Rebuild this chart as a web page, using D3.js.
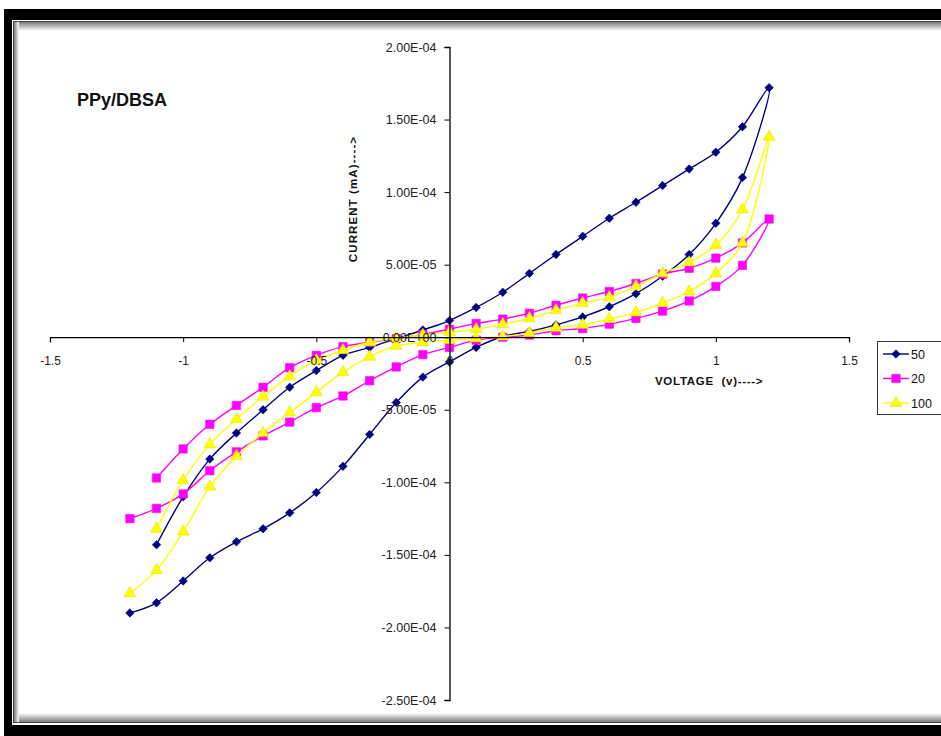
<!DOCTYPE html>
<html>
<head>
<meta charset="utf-8">
<script src="https://cdn.jsdelivr.net/npm/d3@7"></script>
<style>
  html, body { margin: 0; padding: 0; background: #fff; }
  svg { display: block; font-family: "Liberation Sans", Arial, sans-serif; }
</style>
</head>
<body>
<svg id="chart" width="941" height="736"></svg>
<script>
// Cyclic voltammetry sweep: forward branch -1.1 V -> 1.2 V, then reverse 1.1 V -> -1.2 V
const voltage = [
  -1.1, -1.0, -0.9, -0.8, -0.7, -0.6, -0.5, -0.4, -0.3, -0.2, -0.1, 0.0,
   0.1,  0.2,  0.3,  0.4,  0.5,  0.6,  0.7,  0.8,  0.9,  1.0,  1.1, 1.2,
   1.1,  1.0,  0.9,  0.8,  0.7,  0.6,  0.5,  0.4,  0.3,  0.2,  0.1, 0.0,
  -0.1, -0.2, -0.3, -0.4, -0.5, -0.6, -0.7, -0.8, -0.9, -1.0, -1.1, -1.2
];

// Currents in units of 1e-6 (scaled when plotted)
const current50 = [
  -143, -110, -84, -66, -50, -34.5, -23, -12.5, -7, -1, 5, 11.5,
  20.5, 31, 44, 57, 69.5, 82, 93, 104.5, 116, 127.5, 145, 172,
  110, 78.5, 57, 42, 30, 21, 14, 8.5, 4, 0.5, -7, -17,
  -27.5, -45, -67, -89, -107, -121, -132, -141, -152, -168, -183, -190
];
const current20 = [
  -97, -77, -60, -47, -34.5, -21, -12.5, -6.5, -3.5, -1, 2, 5.5,
  9.5, 12.5, 16.5, 22, 27, 31.5, 37, 43.5, 47.5, 54.5, 65, 81.5,
  49.5, 35, 25, 18, 13, 9, 6, 4.5, 1.5, 0, -2, -7,
  -12, -20.5, -30, -40.5, -48.5, -58.5, -68, -79, -92, -108, -118, -125
];
const current100 = [
  -132, -98.5, -74, -56.5, -41, -27, -16, -9, -3.5, -0.7, 1.5, 3.5,
  5.5, 9, 13, 18.5, 23.5, 27.5, 35, 44, 51.5, 63.5, 88, 138,
  65, 44, 31.5, 23.5, 17, 12.5, 8.5, 6.5, 2.8, 0.5, -0.7, -2,
  -3.5, -6, -13.5, -24, -38, -52, -66, -82, -103, -134, -160.5, -176.5
];

const seriesNames = ["50", "20", "100"];
const seriesColors = ["#000080", "#ff00ff", "#ffff00"];
const seriesMarkers = ["diamond", "square", "triangle"];
const seriesValues = [current50, current20, current100];

const xTicks = [-1.5, -1, -0.5, 0, 0.5, 1, 1.5];
const yTicks = [2e-4, 1.5e-4, 1e-4, 5e-5, 0, -5e-5, -1e-4, -1.5e-4, -2e-4, -2.5e-4];

const svg = d3.select("#chart");

// ---- framed panel ----
svg.append("rect").attr("x", 4).attr("y", 9).attr("width", 950).attr("height", 740).attr("fill", "#000");
svg.append("rect").attr("x", 12).attr("y", 20).attr("width", 940).attr("height", 705).attr("fill", "#fff");
svg.append("rect").attr("x", 13.5).attr("y", 21.5).attr("width", 940).attr("height", 701)
  .attr("fill", "none").attr("stroke", "#444").attr("stroke-width", 1);

const defs = svg.append("defs");
function grad(id, x1, y1, x2, y2) {
  const g = defs.append("linearGradient").attr("id", id)
    .attr("x1", x1).attr("y1", y1).attr("x2", x2).attr("y2", y2);
  g.append("stop").attr("offset", "0%").attr("stop-color", "#7a7a7a");
  g.append("stop").attr("offset", "100%").attr("stop-color", "#fff");
}
grad("shTop", 0, 0, 0, 1);
grad("shBot", 0, 1, 0, 0);
grad("shLeft", 0, 0, 1, 0);
svg.append("rect").attr("x", 14).attr("y", 22).attr("width", 930).attr("height", 9).attr("fill", "url(#shTop)");
svg.append("rect").attr("x", 14).attr("y", 713).attr("width", 930).attr("height", 9).attr("fill", "url(#shBot)");
svg.append("rect").attr("x", 14).attr("y", 22).attr("width", 5).attr("height", 700).attr("fill", "url(#shLeft)");

// ---- scales ----
const x = d3.scaleLinear().domain([-1.5, 1.5]).range([50, 849]);
const y = d3.scaleLinear().domain([-2.5e-4, 2e-4]).range([700, 47]);

function sci(v) {
  if (v === 0) return "0.00E+00";
  const e = Math.floor(Math.log10(Math.abs(v)) + 1e-9);
  const m = v / Math.pow(10, e);
  const sign = e < 0 ? "-" : "+";
  const ee = String(Math.abs(e)).padStart(2, "0");
  return m.toFixed(2) + "E" + sign + ee;
}

// ---- series ----
const line = d3.line().curve(d3.curveCatmullRom.alpha(0.5))
  .x(d => x(d[0])).y(d => y(d[1] * 1e-6));

function markerPath(kind) {
  if (kind === "diamond") return d3.symbol().type(d3.symbolDiamond2).size(46)();
  if (kind === "square") return d3.symbol().type(d3.symbolSquare).size(70)();
  return d3.symbol().type(d3.symbolTriangle).size(60)();
}

const plot = svg.append("g");
seriesValues.forEach((vals, i) => {
  const pts = voltage.map((v, k) => [v, vals[k]]);
  const g = plot.append("g");
  g.append("path").attr("d", line(pts)).attr("fill", "none")
    .attr("stroke", seriesColors[i]).attr("stroke-width", 1.4);
  g.selectAll("path.m").data(pts).join("path").attr("class", "m")
    .attr("transform", d => `translate(${x(d[0])},${y(d[1] * 1e-6)})`)
    .attr("d", markerPath(seriesMarkers[i]))
    .attr("fill", seriesColors[i])
    .attr("stroke", i === 2 ? "#e6e600" : seriesColors[i]).attr("stroke-width", 0.6);
});

// ---- axes (drawn over the curves, labels stay readable) ----
const yAxis = d3.axisLeft(y).tickValues(yTicks).tickFormat(sci).tickSize(5).tickPadding(8);
const yg = svg.append("g").attr("transform", `translate(${x(0)},0)`).call(yAxis);
yg.select(".domain").attr("stroke", "#000").attr("stroke-width", 1.3);
yg.selectAll(".tick line").attr("stroke", "#000");
yg.selectAll(".tick text").attr("font-size", 12.5).attr("fill", "#222")
  .attr("font-family", "'Liberation Sans', Arial, sans-serif");

const xAxis = d3.axisBottom(x).tickValues(xTicks).tickFormat(d => String(d)).tickSize(5).tickPadding(14);
const xg = svg.append("g").attr("transform", `translate(0,${y(0)})`).call(xAxis);
xg.select(".domain").attr("stroke", "#000").attr("stroke-width", 1.3);
xg.selectAll(".tick line").attr("stroke", "#000");
xg.selectAll(".tick text").attr("font-size", 12).attr("fill", "#222")
  .attr("font-family", "'Liberation Sans', Arial, sans-serif");

// ---- axis titles ----
svg.append("text").attr("x", 655).attr("y", 385)
  .attr("font-size", 11.5).attr("font-weight", "bold").attr("fill", "#111")
  .attr("letter-spacing", 0.7)
  .attr("xml:space", "preserve").text("VOLTAGE  (v)---->");
svg.append("text").attr("transform", "translate(357,199) rotate(-90)")
  .attr("text-anchor", "middle").attr("font-size", 11.5).attr("font-weight", "bold").attr("fill", "#111")
  .attr("letter-spacing", 1.1)
  .text("CURRENT (mA)---->");

// ---- title ----
svg.append("text").attr("x", 77).attr("y", 106)
  .attr("font-size", 18).attr("font-weight", "bold").attr("fill", "#111")
  .text("PPy/DBSA");

// ---- legend ----
const lg = svg.append("g").attr("transform", "translate(877,341)");
lg.append("rect").attr("x", 0.5).attr("y", 0.5).attr("width", 70).attr("height", 73)
  .attr("fill", "#fff").attr("stroke", "#333").attr("stroke-width", 1);
seriesNames.forEach((name, i) => {
  const cy = 13 + i * 24.5;
  lg.append("line").attr("x1", 6).attr("x2", 32).attr("y1", cy).attr("y2", cy)
    .attr("stroke", seriesColors[i]).attr("stroke-width", 1.4);
  lg.append("path").attr("transform", `translate(19,${cy})`).attr("d", markerPath(seriesMarkers[i]))
    .attr("fill", seriesColors[i]).attr("stroke", i === 2 ? "#e6e600" : seriesColors[i]).attr("stroke-width", 0.6);
  lg.append("text").attr("x", 34).attr("y", cy + 4.5).attr("font-size", 12.5).attr("fill", "#111").text(name);
});
</script>
</body>
</html>
